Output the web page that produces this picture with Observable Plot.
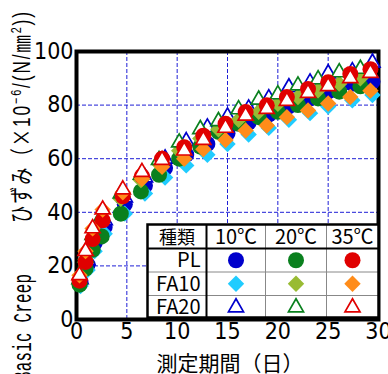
<!DOCTYPE html>
<html>
<head>
<meta charset="utf-8">
<script src="https://cdn.jsdelivr.net/npm/d3@7"></script>
<script src="https://cdn.jsdelivr.net/npm/@observablehq/plot@0.6"></script>
<style>
  body { margin: 0; background: #fff; }
  #wrap { position: relative; width: 388px; height: 374px; overflow: hidden; background: #fff; }
  #wrap svg { position: absolute; left: 0; top: 0; }
</style>
</head>
<body>
<div id="wrap"></div>
<script>
// Basic creep strain per unit stress vs. age of loading (days)
// Mixes: PL, FA10, FA20 cured at 10, 20 and 35 °C

const xTicks = [0, 5, 10, 15, 20, 25, 30];
const yTicks = [0, 20, 40, 60, 80, 100];
const xGrid = [5, 10, 15, 20, 25];
const yGrid = [20, 40, 60, 80];

const mixes = ["PL", "FA10", "FA20"];
const temps = ["10℃", "20℃", "35℃"];

// measurement days per curing temperature
const days10 = [0.4, 1.1, 1.8, 2.8, 4.8, 6.8, 8.8, 10.9, 13.0, 15.0, 17.1, 19.1, 21.1, 23.2, 25.0, 27.4, 29.4];
const days20 = [0.3, 0.9, 1.6, 2.5, 4.4, 6.4, 8.2, 10.2, 12.3, 14.1, 16.1, 18.1, 20.0, 22.0, 24.0, 26.1, 28.2];
const days35 = [0.3, 0.9, 1.6, 2.6, 4.6, 6.5, 8.5, 10.7, 12.6, 14.8, 16.8, 18.9, 20.9, 23.0, 25.0, 27.2, 29.2];

// creep strain (×10⁻⁶ per N/mm²)
const pl10    = [14.0, 20.5, 28.5, 34.5, 43.0, 50.0, 56.5, 61.5, 65.5, 69.5, 73.5, 76.5, 79.5, 82.5, 85.0, 88.0, 88.8];
const fa10_10 = [12.5, 18.5, 25.5, 32.0, 39.5, 47.0, 53.0, 57.5, 61.5, 65.5, 69.0, 71.5, 74.5, 77.0, 79.5, 81.8, 83.8];
const fa20_10 = [15.0, 22.0, 30.0, 37.0, 45.5, 53.0, 60.0, 66.5, 71.6, 75.7, 78.7, 82.5, 86.6, 88.4, 91.8, 92.6, 95.8];

const pl20    = [13.0, 19.0, 26.0, 31.0, 39.5, 47.8, 54.0, 60.0, 64.5, 70.0, 73.0, 75.5, 77.5, 80.0, 82.5, 85.0, 87.0];
const fa10_20 = [15.0, 22.5, 30.0, 37.0, 45.0, 52.0, 58.0, 63.0, 67.5, 71.0, 74.5, 77.5, 80.5, 83.0, 85.5, 88.0, 90.0];
const fa20_20 = [15.0, 23.0, 31.5, 38.5, 47.0, 54.0, 59.5, 66.0, 71.0, 74.0, 78.4, 82.0, 84.0, 87.3, 89.6, 92.2, 93.5];

const pl35    = [14.5, 21.5, 30.0, 37.0, 46.0, 53.5, 60.0, 64.3, 68.6, 73.0, 77.4, 79.9, 83.0, 86.0, 88.5, 91.6, 93.4];
const fa10_35 = [16.5, 25.5, 34.0, 41.0, 47.5, 52.5, 57.0, 60.0, 63.5, 67.0, 70.5, 72.4, 75.5, 78.0, 80.6, 83.0, 85.4];
const fa20_35 = [16.5, 25.5, 34.0, 41.0, 48.5, 55.0, 59.5, 63.0, 67.0, 71.5, 76.0, 78.5, 81.5, 84.5, 87.0, 90.0, 92.0];

// marker styles: [mix][temperature]
const colors = {
  PL:   ["#0000cc", "#0a801e", "#e00000"],
  FA10: ["#20ccff", "#99bb33", "#ff8c1a"],
  FA20: ["#0000cc", "#0a801e", "#e00000"]
};
const symbols = { PL: "circle", FA10: "diamond2", FA20: "triangle" };
const radii = { PL: 8, FA10: 7.4, FA20: 5.6 };

const series = [
  { mix: "PL",   t: 0, days: days10, v: pl10 },
  { mix: "FA10", t: 0, days: days10, v: fa10_10 },
  { mix: "FA20", t: 0, days: days10, v: fa20_10 },
  { mix: "PL",   t: 1, days: days20, v: pl20 },
  { mix: "FA10", t: 1, days: days20, v: fa10_20 },
  { mix: "FA20", t: 1, days: days20, v: fa20_20 },
  { mix: "PL",   t: 2, days: days35, v: pl35 },
  { mix: "FA10", t: 2, days: days35, v: fa10_35 },
  { mix: "FA20", t: 2, days: days35, v: fa20_35 }
];

function dotOptions(mix, t) {
  const c = colors[mix][t];
  const hollow = mix === "FA20";
  return {
    symbol: symbols[mix],
    r: radii[mix],
    fill: hollow ? "#fff" : c,
    stroke: hollow ? c : "none",
    strokeWidth: hollow ? 1.7 : 0
  };
}

const tickFont = "'Liberation Sans Narrow', 'Arial Narrow', 'DejaVu Sans Condensed', sans-serif";
const cjkFont = "'Noto Sans CJK JP', sans-serif";

const gridStyle = { stroke: "#1f1fd6", strokeOpacity: 1, strokeWidth: 1, strokeDasharray: "4,2" };

const chart = Plot.plot({
  width: 388,
  height: 374,
  marginLeft: 76,
  marginRight: 10,
  marginTop: 51,
  marginBottom: 55,
  x: { domain: [0, 30] },
  y: { domain: [0, 100] },
  style: { fontFamily: tickFont, fontSize: "23px", color: "#000", background: "transparent", overflow: "visible" },
  marks: [
    Plot.gridX(xGrid, gridStyle),
    Plot.gridY(yGrid, gridStyle),
    Plot.axisX(xTicks, { tickSize: 0, tickPadding: 3, label: null, fontSize: 23 }),
    Plot.axisY(yTicks, { tickSize: 0, tickPadding: 3, label: null, fontSize: 23 }),
    Plot.frame({ stroke: "#000", strokeWidth: 4 }),
    ...series.map(s =>
      Plot.dot(s.days.map((d, i) => ({ day: d, strain: s.v[i] })), { x: "day", y: "strain", ...dotOptions(s.mix, s.t) })
    )
  ]
});

const wrap = document.getElementById("wrap");
wrap.appendChild(chart);

// axis titles
const svg = d3.select(chart);
svg.append("text")
  .attr("x", 230).attr("y", 371)
  .attr("text-anchor", "middle")
  .style("font-family", cjkFont).style("font-size", "21px").attr("fill", "#000")
  .text("測定期間（日）");

// vertical title, read bottom to top, in two runs of condensed type
const latinScale = 0.63;
svg.append("text")
  .attr("transform", `translate(31,381) rotate(-90) scale(${latinScale},1)`)
  .attr("text-anchor", "start")
  .attr("textLength", 107 / latinScale).attr("lengthAdjust", "spacing")
  .style("font-family", "'Liberation Mono', monospace")
  .style("font-size", "25px").attr("fill", "#000")
  .text("Basic Creep");

const unitScale = 0.72;
const unitRun = svg.append("text")
  .attr("transform", `translate(30,223) rotate(-90) scale(${unitScale},1)`)
  .attr("text-anchor", "start")
  .attr("textLength", 211 / unitScale).attr("lengthAdjust", "spacing")
  .style("font-family", "'Liberation Sans', " + cjkFont)
  .style("font-size", "24px").attr("fill", "#000");
unitRun.append("tspan").style("font-family", cjkFont).text("ひずみ（×");
unitRun.append("tspan").text("10");
unitRun.append("tspan").attr("dy", -9).style("font-size", "15px").text("−6");
unitRun.append("tspan").attr("dy", 9).text("/(N/");
unitRun.append("tspan").style("font-family", cjkFont).text("㎜");
unitRun.append("tspan").attr("dy", -9).style("font-size", "15px").text("2");
unitRun.append("tspan").attr("dy", 9).text("))");

// legend table: rows are mixes, columns are curing temperatures
const colEdges = [0, 59, 118, 179, 231];
const rowEdges = [0, 24, 47.5, 71, 93];
const leg = d3.select(wrap).append("svg")
  .attr("width", 235).attr("height", 98)
  .style("left", "146px").style("top", "223px");
const g = leg.append("g").attr("transform", "translate(1.5,1.5)");
g.append("rect").attr("width", colEdges[4]).attr("height", rowEdges[4]).attr("fill", "#fff");
// thin grey separators
[colEdges[2], colEdges[3]].forEach(x =>
  g.append("line").attr("x1", x).attr("x2", x).attr("y1", 0).attr("y2", rowEdges[4]).attr("stroke", "#888").attr("stroke-width", 1));
[rowEdges[2], rowEdges[3]].forEach(y =>
  g.append("line").attr("x1", 0).attr("x2", colEdges[4]).attr("y1", y).attr("y2", y).attr("stroke", "#888").attr("stroke-width", 1));
// black separators and outline
g.append("line").attr("x1", colEdges[1]).attr("x2", colEdges[1]).attr("y1", 0).attr("y2", rowEdges[4]).attr("stroke", "#000").attr("stroke-width", 2);
g.append("line").attr("x1", 0).attr("x2", colEdges[4]).attr("y1", rowEdges[1]).attr("y2", rowEdges[1]).attr("stroke", "#000").attr("stroke-width", 2);
g.append("rect").attr("width", colEdges[4]).attr("height", rowEdges[4]).attr("fill", "none").attr("stroke", "#000").attr("stroke-width", 2.5);

const legFont = "'Liberation Sans Narrow', 'Noto Sans CJK JP', sans-serif";
g.append("text").attr("x", colEdges[1] / 2).attr("y", rowEdges[1] / 2 + 7)
  .attr("text-anchor", "middle").style("font-family", cjkFont).style("font-size", "18px").text("種類");
temps.forEach((t, j) => {
  g.append("text").attr("x", (colEdges[j + 1] + colEdges[j + 2]) / 2).attr("y", rowEdges[1] / 2 + 7)
    .attr("text-anchor", "middle").style("font-family", legFont).style("font-size", "20px").text(t);
});
mixes.forEach((m, i) => {
  const cy = (rowEdges[i + 1] + rowEdges[i + 2]) / 2;
  g.append("text").attr("x", colEdges[1] - 6).attr("y", cy + 7)
    .attr("text-anchor", "end").style("font-family", legFont).style("font-size", "20px").text(m);
  temps.forEach((t, j) => {
    const cx = (colEdges[j + 1] + colEdges[j + 2]) / 2;
    const o = dotOptions(m, j);
    const symType = { circle: d3.symbolCircle, diamond2: d3.symbolDiamond2, triangle: d3.symbolTriangle }[o.symbol];
    g.append("path")
      .attr("transform", `translate(${cx},${cy + (m === "FA20" ? 1 : 0)})`)
      .attr("d", d3.symbol(symType, Math.PI * o.r * o.r)())
      .attr("fill", o.fill).attr("stroke", o.stroke).attr("stroke-width", o.strokeWidth);
  });
});
</script>
</body>
</html>
